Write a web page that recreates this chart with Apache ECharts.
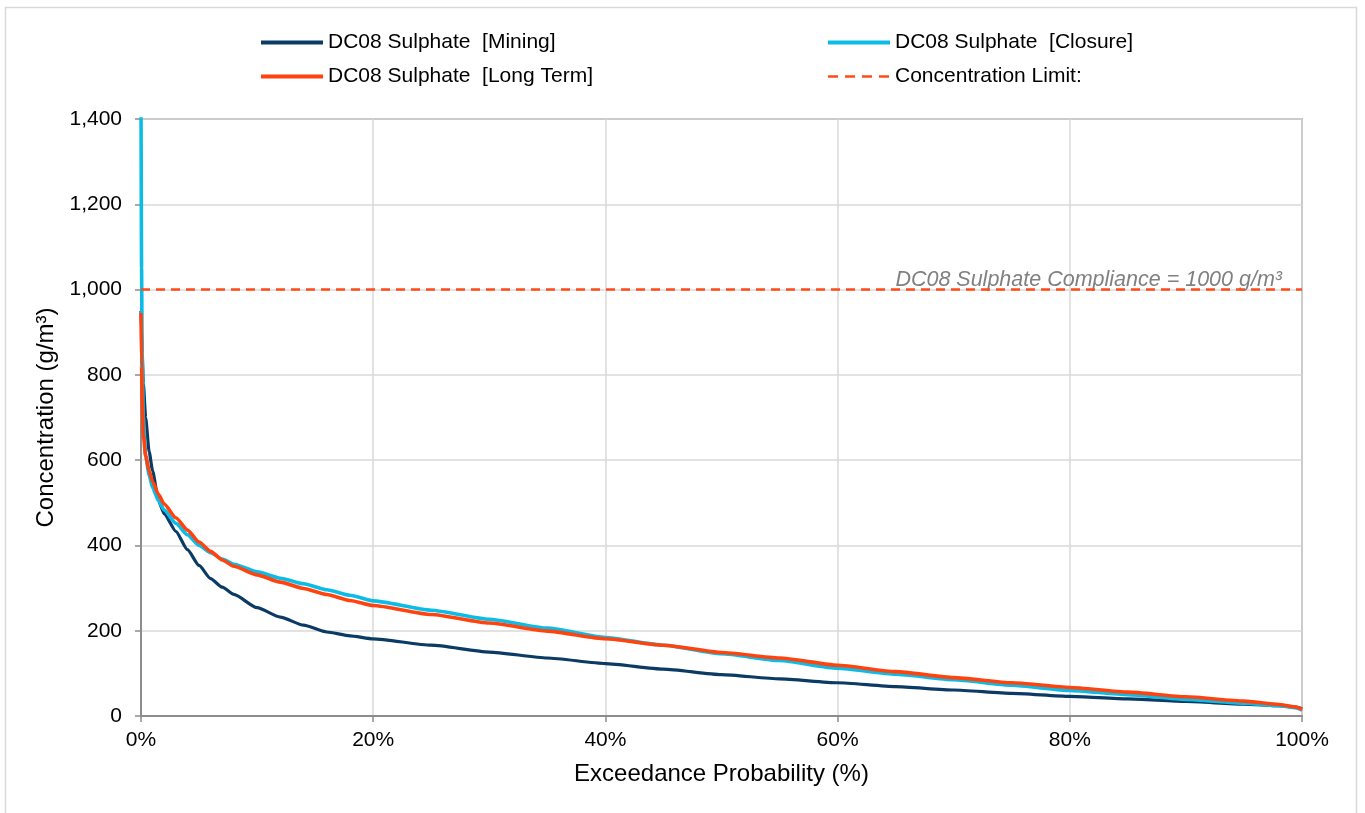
<!DOCTYPE html>
<html>
<head>
<meta charset="utf-8">
<title>DC08 Sulphate exceedance</title>
<script src="https://cdn.jsdelivr.net/npm/echarts@6/dist/echarts.min.js"></script>
<style>
  html, body { margin: 0; padding: 0; background: #ffffff; }
  #chart { width: 1365px; height: 813px; }
</style>
</head>
<body>
<div id="chart"></div>
<script>
// Exceedance probability (%) shared by the three duration curves
const exceedance = [0, 0.05, 0.1, 0.2, 0.4, 0.7, 1, 1.5, 2, 3, 4, 5, 6, 7, 8, 10, 12, 14, 16, 18, 20,
  25, 30, 35, 40, 45, 50, 55, 60, 65, 70, 75, 80, 85, 90, 95, 98, 99.5, 100];

// Sulphate concentration (g/m³) for each phase
const mining = [950, 900, 850, 780, 700, 620, 575, 505, 474, 433, 390, 353, 322, 302, 285, 254, 232, 213, 197, 188, 181,
  166, 150, 136, 123, 110, 97, 87, 78, 69, 61, 53, 46, 40, 34, 28, 24, 21, 17];
const closure = [1450, 1050, 850, 700, 610, 565, 535, 505, 483, 452, 425, 400, 383, 368, 356, 338, 323, 310, 296, 283, 270,
  248, 227, 206, 184, 166, 146, 130, 112, 98, 85, 72, 60, 50, 39, 30, 24, 19, 14];
const longTerm = [945, 820, 740, 660, 610, 575, 550, 520, 497, 465, 436, 408, 386, 366, 351, 331, 314, 299, 285, 271, 259,
  238, 218, 199, 181, 166, 149, 136, 119, 104, 90, 78, 67, 56, 45, 35, 27, 21, 15];

// Compliance limit
const limitValue = 1000;
const limitSpan = [0, 100];
const limitText = 'DC08 Sulphate Compliance = 1000 g/m³';

const seriesNames = ['DC08 Sulphate  [Mining]', 'DC08 Sulphate  [Closure]', 'DC08 Sulphate  [Long Term]', 'Concentration Limit:'];

const xTicks = { min: 0, max: 100, interval: 20 };
const yTicks = { min: 0, max: 1400, interval: 200 };

const pairs = (xs, ys) => xs.map((x, i) => [x, ys[i]]);

const FONT = '"Liberation Sans", Arial, sans-serif';
const chart = echarts.init(document.getElementById('chart'), null, { renderer: 'canvas' });

const legendText = { fontFamily: FONT, fontSize: 21, color: '#000000' };
// legend keys show only the line, no marker
const legendBase = {
  orient: 'vertical', top: 32, padding: 0,
  itemWidth: 62, itemHeight: 14, itemGap: 13,
  itemStyle: { opacity: 0 },
  textStyle: legendText
};
const solidKey = (name) => ({ name: name, lineStyle: { width: 4 } });
const dashedKey = (name) => ({ name: name, lineStyle: { width: 2.6, type: [10, 7] } });

chart.setOption({
  animation: false,
  backgroundColor: '#ffffff',
  textStyle: { fontFamily: FONT, color: '#000000' },
  graphic: [{
    type: 'rect',
    shape: { x: 5.5, y: 7.5, width: 1351, height: 830 },
    style: { fill: 'none', stroke: '#d9d9d9', lineWidth: 1.5 },
    silent: true,
    z: -10
  }],
  grid: {
    left: 141, right: 63, top: 119, bottom: 97,
    show: true, borderColor: '#8c8c8c', borderWidth: 1.5, backgroundColor: 'transparent'
  },
  legend: [
    Object.assign({}, legendBase, { data: [solidKey(seriesNames[0]), solidKey(seriesNames[2])], left: 259 }),
    Object.assign({}, legendBase, { data: [solidKey(seriesNames[1]), dashedKey(seriesNames[3])], left: 826 })
  ],
  xAxis: {
    type: 'value', min: xTicks.min, max: xTicks.max, interval: xTicks.interval,
    name: 'Exceedance Probability (%)', nameLocation: 'middle', nameGap: 46,
    nameTextStyle: { fontFamily: FONT, fontSize: 24, color: '#000000' },
    axisLine: { show: true, onZero: false, lineStyle: { color: '#8c8c8c', width: 2 } },
    axisTick: { show: true, length: 6, lineStyle: { color: '#8c8c8c', width: 1.5 } },
    axisLabel: { formatter: '{value}%', fontFamily: FONT, fontSize: 21, color: '#000000', margin: 14 },
    splitLine: { show: true, lineStyle: { color: '#d9d9d9', width: 1.5 } }
  },
  yAxis: {
    type: 'value', min: yTicks.min, max: yTicks.max, interval: yTicks.interval,
    name: 'Concentration (g/m³)', nameLocation: 'middle', nameGap: 80, nameRotate: 90,
    nameTextStyle: { fontFamily: FONT, fontSize: 24, color: '#000000' },
    axisLine: { show: true, lineStyle: { color: '#8c8c8c', width: 2 } },
    axisTick: { show: true, length: 6, lineStyle: { color: '#8c8c8c', width: 1.5 } },
    axisLabel: { fontFamily: FONT, fontSize: 21, color: '#000000', margin: 19 },
    splitLine: { show: true, lineStyle: { color: '#d9d9d9', width: 1.5 } }
  },
  series: [{
    name: seriesNames[0], type: 'line', data: pairs(exceedance, mining),
    symbol: 'none', smooth: 0.2, smoothMonotone: 'x', clip: true,
    lineStyle: { color: '#0b3a64', width: 3.2 }, itemStyle: { color: '#0b3a64' }, z: 2
  }, {
    name: seriesNames[1], type: 'line', data: pairs(exceedance, closure),
    symbol: 'none', smooth: 0.2, smoothMonotone: 'x', clip: true,
    lineStyle: { color: '#0bbde6', width: 3.6 }, itemStyle: { color: '#0bbde6' }, z: 3
  }, {
    name: seriesNames[2], type: 'line', data: pairs(exceedance, longTerm),
    symbol: 'none', smooth: 0.2, smoothMonotone: 'x', clip: true,
    lineStyle: { color: '#ff430f', width: 3.6 }, itemStyle: { color: '#ff430f' }, z: 4
  }, {
    name: seriesNames[3], type: 'line',
    data: [[limitSpan[0], limitValue], [limitSpan[1], limitValue]],
    symbol: 'none',
    lineStyle: { color: '#ff4a1a', width: 2.4, type: [9, 6] }, itemStyle: { color: '#ff4a1a' }, z: 5,
    markPoint: {
      symbol: 'rect', symbolSize: 1,
      itemStyle: { color: 'rgba(0,0,0,0)' },
      label: {
        show: true, position: 'top', align: 'right', offset: [-20, 6], distance: 4,
        formatter: limitText,
        fontFamily: FONT, fontSize: 21.5, fontStyle: 'italic', color: '#808080'
      },
      data: [{ coord: [limitSpan[1], limitValue] }]
    }
  }]
});
</script>
</body>
</html>
